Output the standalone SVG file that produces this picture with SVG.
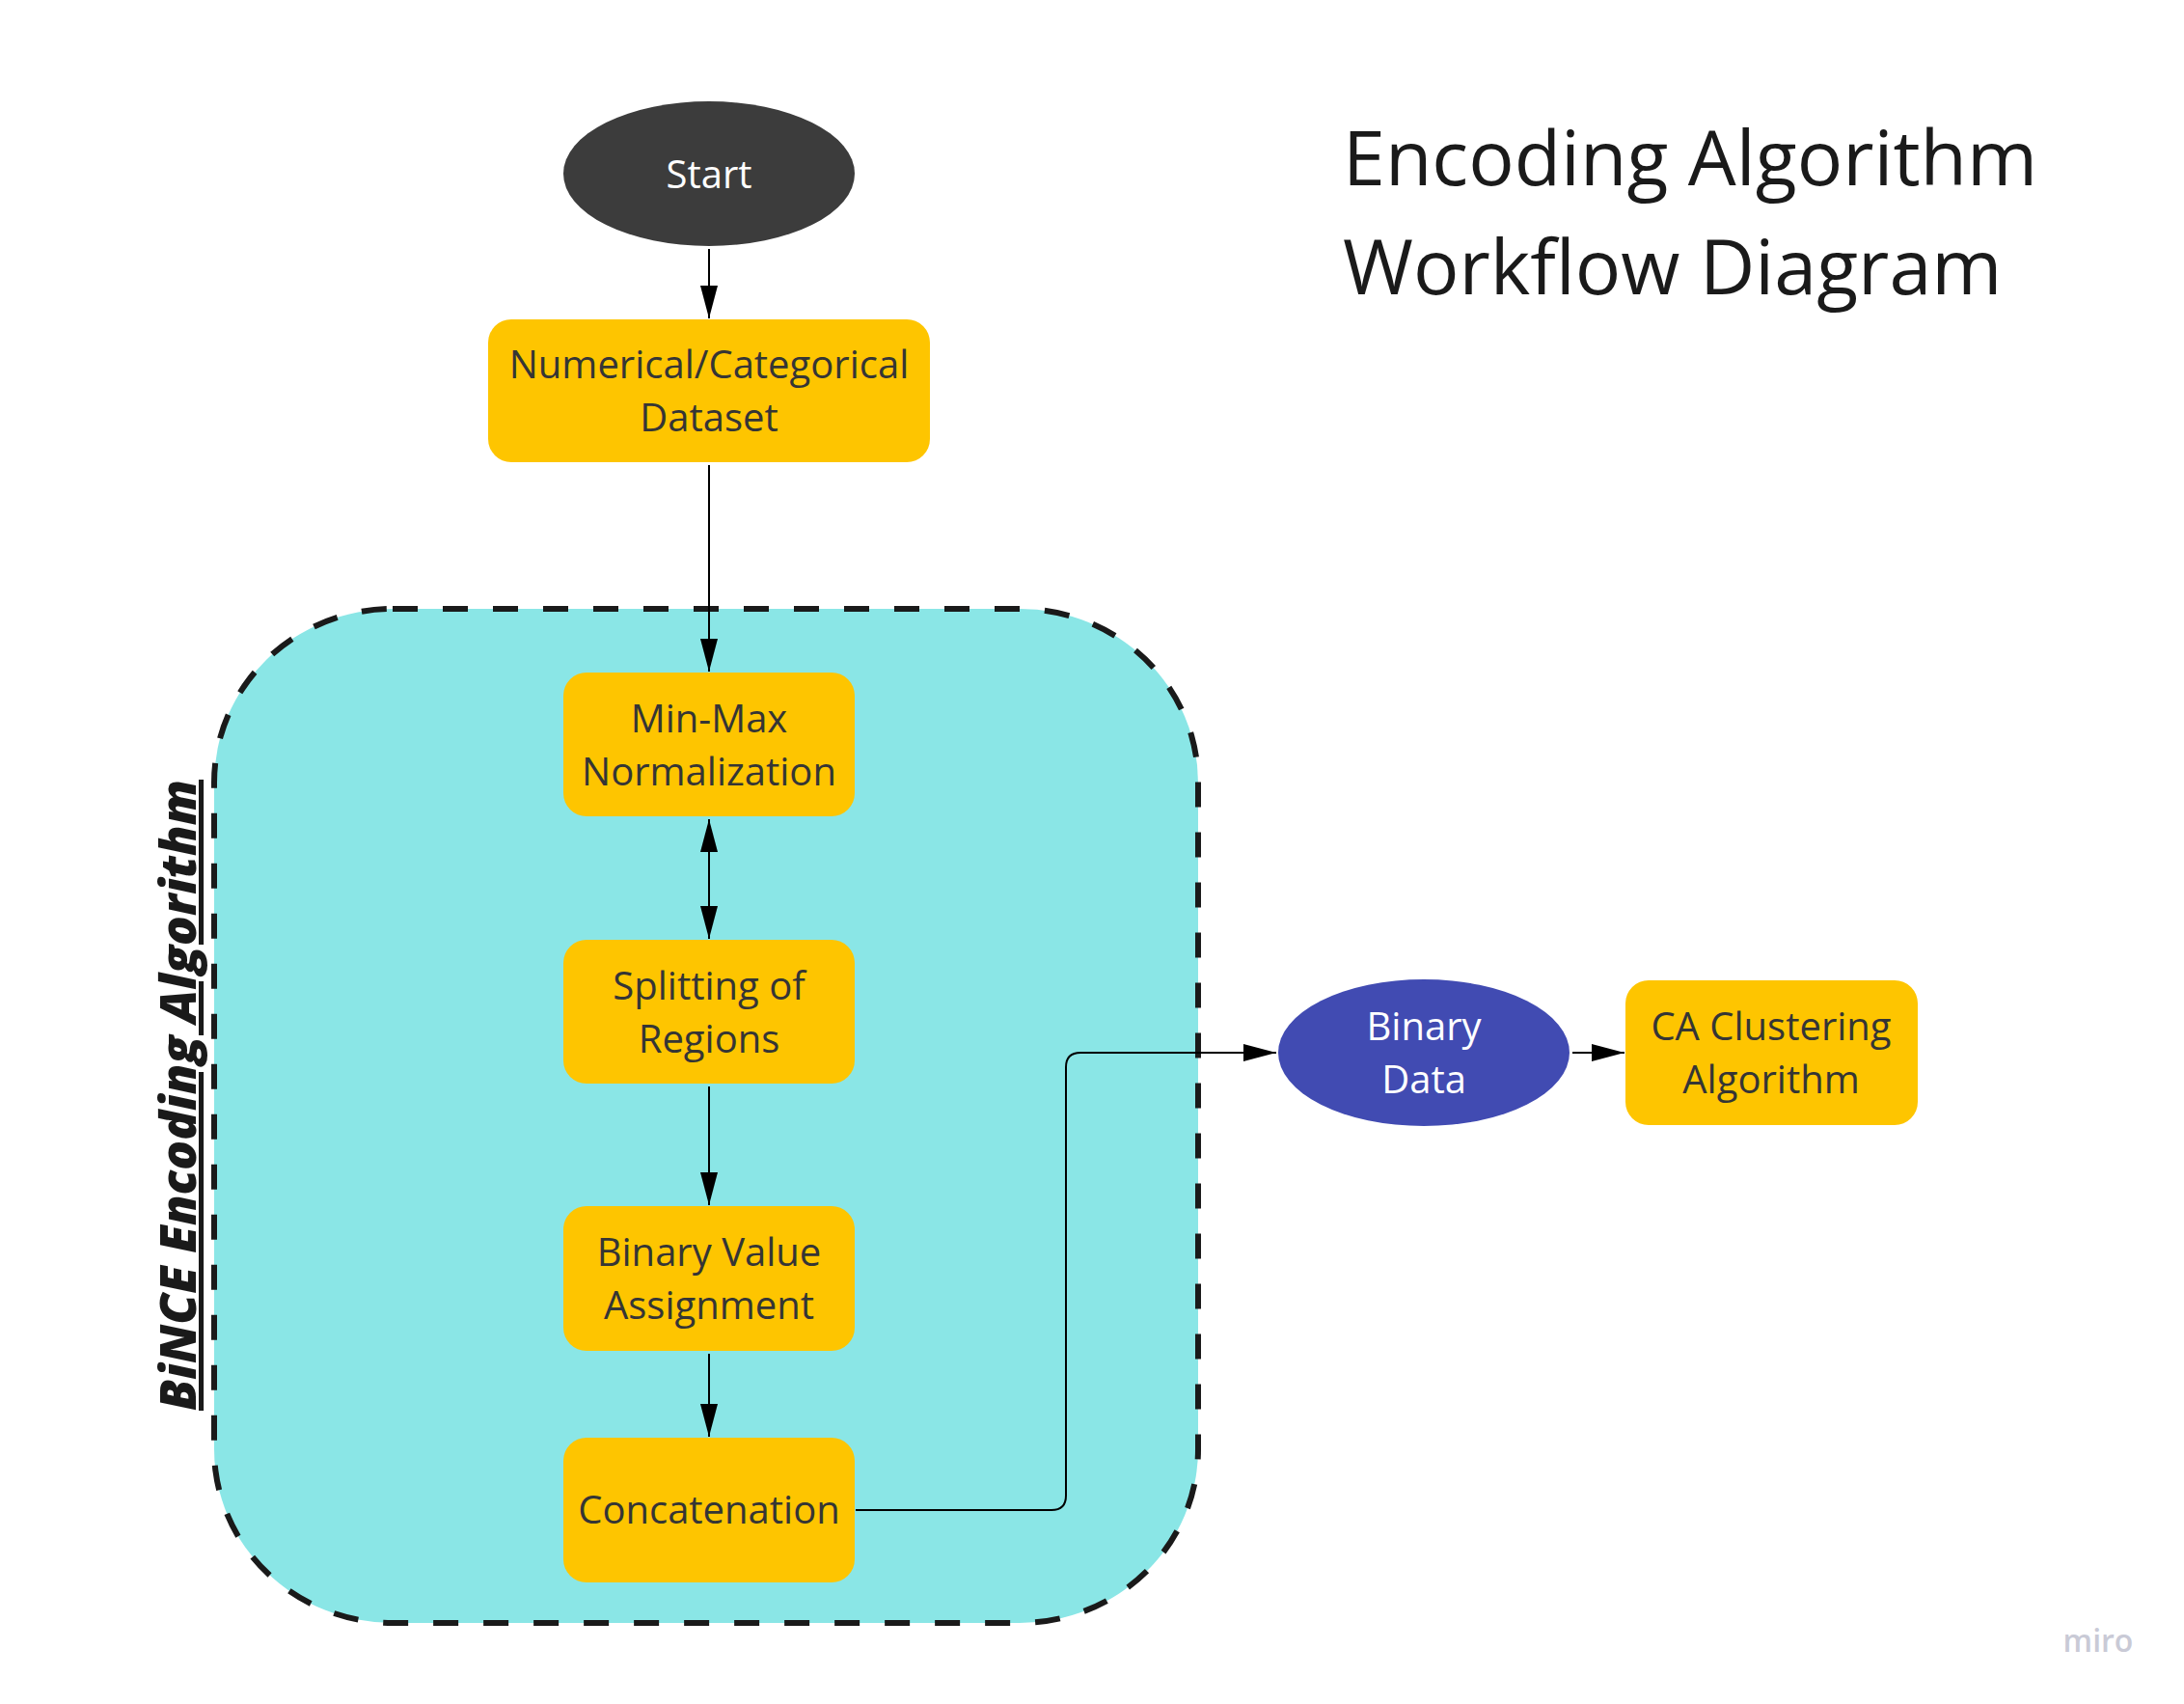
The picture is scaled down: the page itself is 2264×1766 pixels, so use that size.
<svg xmlns="http://www.w3.org/2000/svg" width="2264" height="1766" viewBox="0 0 2264 1766">
  <style>
    .lbl { font-family: "Open Sans", "Noto Sans", "Liberation Sans", sans-serif; font-size: 40px; text-anchor: middle; }
    .dark { fill: #353535; }
    .light { fill: #ffffff; }
    .box { fill: #FEC500; }
    .conn { fill: none; stroke: #000000; stroke-width: 2; }
    .title { font-family: "Open Sans", "Noto Sans", "Liberation Sans", sans-serif; font-size: 79px; fill: #1a1a1a; }
    .group-label { text-decoration: underline; text-decoration-skip-ink: none; }
  </style>
  <defs>
    <marker id="arrow" markerUnits="userSpaceOnUse" markerWidth="34" markerHeight="18" refX="34" refY="9" orient="auto-start-reverse">
      <path d="M0,0 L34,9 L0,18 z" fill="#000000"/>
    </marker>
  </defs>
  <rect x="0" y="0" width="2264" height="1766" fill="#ffffff"/>

  <g id="container">
    <rect x="222" y="631" width="1020" height="1051" rx="185" ry="180" fill="#8AE6E6" stroke="#1a1a1a" stroke-width="6" stroke-dasharray="26 26"/>
    <text class="group-label" x="203" y="1135" transform="rotate(-90 203 1135)" font-family="'Open Sans', 'Noto Sans', 'Liberation Sans', sans-serif" font-size="51" font-weight="800" font-style="italic" text-anchor="middle" fill="#1a1a1a">BiNCE Encoding Algorithm</text>
  </g>

  <g id="title">
    <text class="title" x="1392" y="192">Encoding Algorithm</text>
    <text class="title" x="1392" y="305">Workflow Diagram</text>
  </g>

  <g id="connectors">
    <line class="conn" x1="735" y1="258" x2="735" y2="330" marker-end="url(#arrow)"/>
    <line class="conn" x1="735" y1="482" x2="735" y2="696" marker-end="url(#arrow)"/>
    <line class="conn" x1="735" y1="849" x2="735" y2="973" marker-start="url(#arrow)" marker-end="url(#arrow)"/>
    <line class="conn" x1="735" y1="1126" x2="735" y2="1249" marker-end="url(#arrow)"/>
    <line class="conn" x1="735" y1="1403" x2="735" y2="1489" marker-end="url(#arrow)"/>
    <path class="conn" d="M887,1565 L1090,1565 Q1105,1565 1105,1550 L1105,1106 Q1105,1091 1120,1091 L1323,1091" marker-end="url(#arrow)"/>
    <line class="conn" x1="1630" y1="1091" x2="1684" y2="1091" marker-end="url(#arrow)"/>
  </g>

  <g id="start">
    <ellipse cx="735" cy="180" rx="151" ry="75" fill="#3C3C3C"/>
    <text class="lbl light" x="735" y="195">Start</text>
  </g>

  <g id="dataset">
    <rect class="box" x="506" y="331" width="458" height="148" rx="24"/>
    <text class="lbl dark" x="735" y="392">Numerical/Categorical</text>
    <text class="lbl dark" x="735" y="447">Dataset</text>
  </g>

  <g id="minmax">
    <rect class="box" x="584" y="697" width="302" height="149" rx="24"/>
    <text class="lbl dark" x="735" y="759">Min-Max</text>
    <text class="lbl dark" x="735" y="814">Normalization</text>
  </g>

  <g id="splitting">
    <rect class="box" x="584" y="974" width="302" height="149" rx="24"/>
    <text class="lbl dark" x="735" y="1036">Splitting of</text>
    <text class="lbl dark" x="735" y="1091">Regions</text>
  </g>

  <g id="binaryvalue">
    <rect class="box" x="584" y="1250" width="302" height="150" rx="24"/>
    <text class="lbl dark" x="735" y="1312">Binary Value</text>
    <text class="lbl dark" x="735" y="1367">Assignment</text>
  </g>

  <g id="concatenation">
    <rect class="box" x="584" y="1490" width="302" height="150" rx="24"/>
    <text class="lbl dark" x="735" y="1579">Concatenation</text>
  </g>

  <g id="binarydata">
    <ellipse cx="1476" cy="1091" rx="151" ry="76" fill="#414BB2"/>
    <text class="lbl light" x="1476" y="1078">Binary</text>
    <text class="lbl light" x="1476" y="1133">Data</text>
  </g>

  <g id="caclustering">
    <rect class="box" x="1685" y="1016" width="303" height="150" rx="24"/>
    <text class="lbl dark" x="1836" y="1078">CA Clustering</text>
    <text class="lbl dark" x="1836" y="1133">Algorithm</text>
  </g>

  <g id="logo">
    <text x="2175" y="1712" font-family="'Open Sans', 'Noto Sans', sans-serif" font-size="32" font-weight="600" text-anchor="middle" fill="#C9CAD6">miro</text>
  </g>
</svg>
